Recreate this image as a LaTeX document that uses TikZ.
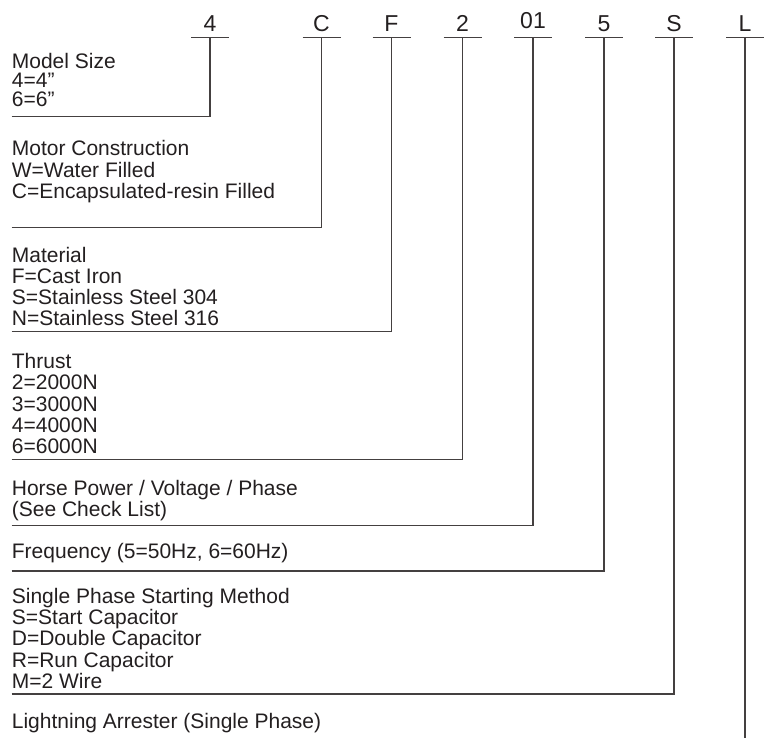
\documentclass[tikz,border=0pt]{standalone}
\usepackage{fontspec}
\setmainfont{Liberation Sans}
\definecolor{txt}{HTML}{231F20}
\definecolor{ln}{HTML}{444040}
\newcommand\blk[1]{\vtop{\halign{##\hfil\cr#1\crcr}}}
\begin{document}
\begin{tikzpicture}[x=1pt,y=-1pt,
  code/.style={font=\fontsize{23}{23}\selectfont, text=txt, anchor=base, inner sep=0pt},
  desc/.style={font=\fontsize{21}{21.3}\selectfont, text=txt, anchor=base west, inner sep=0pt},
  lead/.style={draw=ln, line width=1.3pt},
  bar/.style={draw=ln, line width=1.3pt}]
\useasboundingbox (0,0) rectangle (768,738);
% top code characters
\node[code] (k4) at (210,31.5) {4};
\node[code] (kC) at (321.5,31.5) {C};
\node[code] (kF) at (391.5,31.5) {F};
\node[code] (k2) at (462.5,31.5) {2};
\node[code] (k01) at (533,28.3) {01};
\node[code] (k5) at (604,31.5) {5};
\node[code] (kS) at (674,31.5) {S};
\node[code] (kL) at (745,31.5) {L};
% bar coordinates under each character
\foreach \n/\x in {4/210,C/321.5,F/391.5,2/462.5,01/533,5/604,S/674,L/745}{
  \coordinate (b\n) at (\x,37.7);
  \draw[bar] (b\n) ++(-19,0) -- ++(38,0);
}
% descriptions
\node[desc, font=\fontsize{21}{19.2}\selectfont] (d1) at (11.7,68.3) {\blk{Model Size\cr 4=4”\cr 6=6”}};
\node[desc] (d2) at (11.7,156) {\blk{Motor Construction\cr W=Water Filled\cr C=Encapsulated-resin Filled}};
\node[desc] (d3) at (11.7,262) {\blk{Material\cr F=Cast Iron\cr S=Stainless Steel 304\cr N=Stainless Steel 316}};
\node[desc] (d4) at (11.7,368.5) {\blk{Thrust\cr 2=2000N\cr 3=3000N\cr 4=4000N\cr 6=6000N}};
\node[desc] (d5) at (11.7,495) {\blk{Horse Power / Voltage / Phase\cr (See Check List)}};
\node[desc] (d6) at (11.7,558.5) {Frequency (5=50Hz, 6=60Hz)};
\node[desc] (d7) at (11.7,603.3) {\blk{Single Phase Starting Method\cr S=Start Capacitor\cr D=Double Capacitor\cr R=Run Capacitor\cr M=2 Wire}};
\node[desc] (d8) at (11.7,728.3) {Lightning Arrester (Single Phase)};
% underline start points
\coordinate (u1) at (11.7,116.7);
\coordinate (u2) at (11.7,227.7);
\coordinate (u3) at (11.7,331.7);
\coordinate (u4) at (11.7,459.3);
\coordinate (u5) at (11.7,525.7);
\coordinate (u6) at (11.7,571);
\coordinate (u7) at (11.7,694);
\coordinate (eL) at (745,738);
% leaders
\draw[lead] (u1) -| (b4);
\draw[lead] (u2) -| (bC);
\draw[lead] (u3) -| (bF);
\draw[lead] (u4) -| (b2);
\draw[lead] (u5) -| (b01);
\draw[lead] (u6) -| (b5);
\draw[lead] (u7) -| (bS);
\draw[lead] (bL) -- (eL);
\end{tikzpicture}
\end{document}
